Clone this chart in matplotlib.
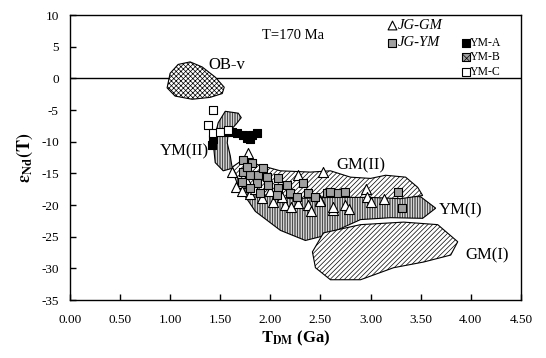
import matplotlib
matplotlib.use("Agg")
import matplotlib.pyplot as plt
from matplotlib.patches import Polygon

plt.rcParams['font.family'] = ['Liberation Serif', 'DejaVu Serif']
plt.rcParams['mathtext.fontset'] = 'stix'
plt.rcParams['hatch.linewidth'] = 0.5

# ---- data ----
xticks = [0.0, 0.5, 1.0, 1.5, 2.0, 2.5, 3.0, 3.5, 4.0, 4.5]
yticks = [10, 5, 0, -5, -10, -15, -20, -25, -30, -35]

# fields (TDM, eNd)
obv_x = [1.00, 1.08, 1.20, 1.32, 1.45, 1.54, 1.52, 1.40, 1.22, 1.05, 0.97]
obv_y = [0.8, 2.2, 2.6, 1.8, 0.2, -1.4, -2.4, -3.0, -3.3, -2.8, -1.5]

ym2_x = [1.55, 1.68, 1.71, 1.66, 1.58, 1.57, 1.60, 1.62, 1.53, 1.45, 1.43, 1.48]
ym2_y = [-5.2, -5.5, -6.2, -7.2, -8.6, -10.2, -12.2, -14.2, -14.6, -13.3, -10.2, -7.0]

ym1_x = [1.62, 1.75, 2.00, 2.40, 2.80, 3.20, 3.50, 3.65, 3.52, 3.20, 2.90, 2.55, 2.35, 2.10, 1.85, 1.68]
ym1_y = [-14.5, -15.5, -16.8, -17.6, -18.2, -18.4, -18.7, -20.5, -22.1, -22.0, -22.3, -24.8, -25.6, -24.0, -21.0, -17.0]

gm2_x = [1.62, 1.75, 1.87, 2.10, 2.40, 2.60, 2.80, 3.00, 3.15, 3.35, 3.47, 3.52, 3.30, 3.00, 2.60, 2.20, 1.90, 1.70]
gm2_y = [-14.0, -12.6, -13.6, -14.6, -14.8, -14.6, -15.6, -15.8, -15.3, -15.6, -17.2, -18.5, -19.0, -18.8, -18.8, -19.0, -18.3, -16.5]

gm1_x = [2.42, 2.53, 2.90, 3.33, 3.67, 3.87, 3.80, 3.53, 3.23, 2.90, 2.60, 2.45]
gm1_y = [-27.4, -24.4, -23.1, -22.7, -23.1, -25.8, -27.9, -29.0, -29.9, -31.8, -31.8, -29.9]

# samples
jggm_x = [1.78, 1.62, 1.70, 1.66, 1.72, 1.76, 1.80, 1.92, 2.03, 2.15, 2.28, 2.28, 2.53, 2.50,
          2.63, 2.75, 2.38, 2.95, 2.96, 3.00, 3.13, 2.78, 2.63, 2.41, 2.21, 2.50, 1.85, 2.00, 2.12]
jggm_y = [-11.8, -14.8, -16.5, -17.2, -17.8, -16.0, -18.3, -18.9, -19.5, -20.0, -19.7, -15.3, -14.8, -19.2,
          -20.8, -20.0, -20.0, -17.5, -18.7, -19.5, -19.1, -20.6, -20.3, -21.0, -20.3, -19.4, -17.5, -17.8, -18.8]

jgym_x = [1.73, 1.82, 1.73, 1.80, 1.88, 1.97, 2.08, 1.72, 1.87, 1.98, 2.08, 2.17, 2.20, 2.07,
          2.27, 2.33, 2.38, 2.45, 2.57, 2.67, 2.75, 1.90, 1.80, 2.60, 3.27, 3.31, 1.77, 1.93]
jgym_y = [-12.9, -13.4, -14.8, -15.3, -15.3, -15.6, -15.7, -16.4, -16.5, -16.8, -17.3, -16.8, -18.1, -18.4,
          -18.7, -16.5, -18.1, -18.7, -18.1, -18.1, -17.9, -18.1, -17.3, -17.9, -18.0, -20.4, -14.0, -14.2]

yma_x = [1.42, 1.43, 1.55, 1.62, 1.67, 1.73, 1.77, 1.80, 1.82, 1.87]
yma_y = [-10.6, -9.6, -8.5, -8.4, -8.7, -8.9, -9.4, -9.5, -8.9, -8.7]

ymc_x = [1.43, 1.38, 1.43, 1.50, 1.58]
ymc_y = [-5.0, -7.4, -8.6, -8.5, -8.1]

# ---- figure ----
fig = plt.figure(figsize=(5.46, 3.58), dpi=100)
ax = fig.add_axes([0.128, 0.162, 0.826, 0.796])
ax.set_xlim(0, 4.5)
ax.set_ylim(-35, 10)

ax.axhline(0, color='black', lw=1.0, zorder=1)

def field(xs, ys, hatch, z):
    p = Polygon(list(zip(xs, ys)), closed=True, facecolor='white', edgecolor='black',
                hatch=hatch, lw=0.8, zorder=z)
    ax.add_patch(p)

field(obv_x, obv_y, 'xxxxxxx', 2)
field(ym1_x, ym1_y, '||||||||||', 2)
field(gm2_x, gm2_y, '///////', 3)
field(ym2_x, ym2_y, '||||||||||', 3)
field(gm1_x, gm1_y, '///////', 3)

ax.scatter(jggm_x, jggm_y, marker='^', s=52, facecolor='white', edgecolor='black', lw=0.8, zorder=5)
ax.scatter(jgym_x, jgym_y, marker='s', s=38, facecolor='#a0a0a0', edgecolor='black', lw=0.8, zorder=6)
ax.scatter(yma_x, yma_y, marker='s', s=38, facecolor='black', edgecolor='black', lw=0.8, zorder=6)
ax.scatter(ymc_x, ymc_y, marker='s', s=38, facecolor='white', edgecolor='black', lw=0.8, zorder=6)

# field labels
ax.text(1.38, 2.1, 'OB-v', fontsize=12, va='center', ha='left')
ax.text(1.39, -11.6, 'YM(II)', fontsize=12, va='center', ha='right')
ax.text(2.66, -13.7, 'GM(II)', fontsize=12, va='center', ha='left')
ax.text(3.68, -20.8, 'YM(I)', fontsize=12, va='center', ha='left')
ax.text(3.95, -28.0, 'GM(I)', fontsize=12, va='center', ha='left')
ax.text(1.92, 6.8, 'T=170 Ma', fontsize=10.5, va='center', ha='left')

# legend (manual)
t = ax.transAxes
ax.scatter([0.714], [0.965], marker='^', s=40, facecolor='white', edgecolor='black', lw=0.8, transform=t, clip_on=False, zorder=7)
ax.text(0.727, 0.965, 'JG-GM', style='italic', fontsize=10.5, va='center', transform=t)
ax.scatter([0.714], [0.902], marker='s', s=30, facecolor='#a0a0a0', edgecolor='black', lw=0.8, transform=t, zorder=7)
ax.text(0.727, 0.902, 'JG-YM', style='italic', fontsize=10.5, va='center', transform=t)
ax.scatter([0.878], [0.902], marker='s', s=30, facecolor='black', edgecolor='black', lw=0.8, transform=t, zorder=7)
ax.text(0.887, 0.902, 'YM-A', fontsize=8.5, va='center', transform=t)
ax.scatter([0.878], [0.853], marker='s', s=30, facecolor='#a0a0a0', edgecolor='black', lw=0.8, hatch='xxxx', transform=t, zorder=7)
ax.text(0.887, 0.853, 'YM-B', fontsize=8.5, va='center', transform=t)
ax.scatter([0.878], [0.800], marker='s', s=30, facecolor='white', edgecolor='black', lw=0.8, transform=t, zorder=7)
ax.text(0.887, 0.800, 'YM-C', fontsize=8.5, va='center', transform=t)

ax.set_xticks(xticks)
ax.set_xticklabels([f'{v:.2f}' for v in xticks])
ax.set_yticks(yticks)
ax.set_yticklabels([str(v) for v in yticks])
ax.tick_params(direction='in', length=4, width=1, labelsize=9.5, pad=10)
ax.tick_params(axis='y', pad=8)
for s in ax.spines.values():
    s.set_linewidth(1.0)

ax.set_xlabel(r'$\mathbf{T_{DM}}$ (Ga)', fontsize=12, fontweight='bold', labelpad=2)
ax.set_ylabel(r'$\mathbf{\varepsilon_{Nd}(T)}$', fontsize=13, labelpad=4)

fig.savefig('out.png', dpi=100)
